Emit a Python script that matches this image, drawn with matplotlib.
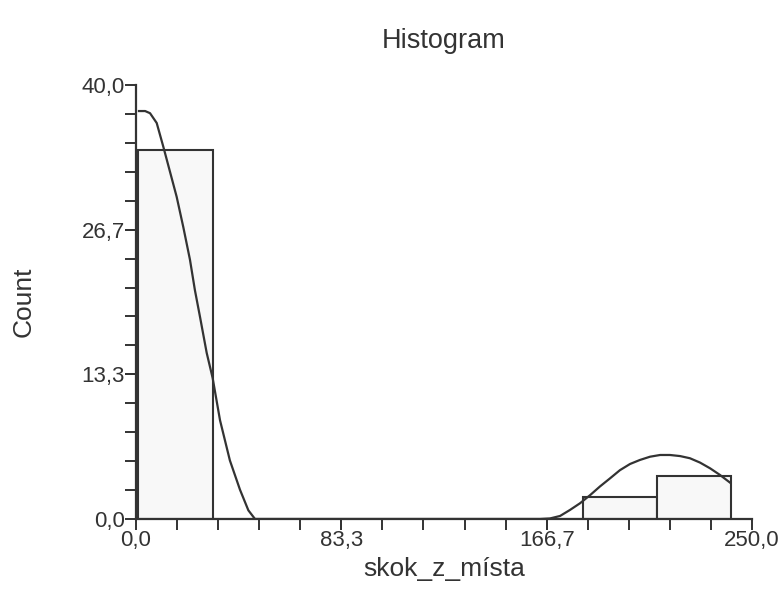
import numpy as np
import matplotlib
matplotlib.use("Agg")
import matplotlib.pyplot as plt

# Histogram bins and counts
bin_edges = [1.0, 31.06, 61.13, 91.19, 121.25, 151.31, 181.38, 211.44, 241.5]
counts = [34, 0, 0, 0, 0, 0, 2, 4]

# Density trace, points
curve_x = [1.2, 3.7, 5.7, 8.4, 11.1, 13.8, 16.5, 19.2, 21.9, 23.9, 26.0, 28.7,
           31.1, 34.1, 38.1, 42.2, 45.6, 48.3, 164.0, 168.0, 172.1, 176.1,
           180.2, 184.3, 188.3, 192.4, 196.4, 200.5, 204.5, 208.6, 212.7,
           216.7, 220.8, 224.8, 228.9, 233.0, 237.0, 241.1]
curve_y = [37.6, 37.6, 37.4, 36.5, 34.3, 32.0, 29.7, 26.9, 23.9, 21.1, 18.6, 15.3,
           13.0, 9.1, 5.4, 2.7, 0.8, 0.0, 0.0, 0.05, 0.28, 0.83,
           1.45, 2.2, 3.0, 3.75, 4.5, 5.07, 5.44, 5.74, 5.9,
           5.9, 5.8, 5.6, 5.2, 4.67, 4.06, 3.35]

x_ticks = [0, 83.33, 166.67, 250]
x_labels = ["0,0", "83,3", "166,7", "250,0"]
y_ticks = [0, 13.33, 26.67, 40]
y_labels = ["0,0", "13,3", "26,7", "40,0"]

plt.rcParams['font.family'] = ['Liberation Sans', 'DejaVu Sans']
ink = "#333333"

fig = plt.figure(figsize=(7.79, 5.92), dpi=100)
ax = fig.add_axes([136/779, 1 - 519/592, (752 - 136)/779, (519 - 85)/592])

widths = np.diff(bin_edges)
ax.bar(bin_edges[:-1], counts, width=widths, align="edge",
       color="#f8f8f8", edgecolor=ink, linewidth=1.5, zorder=2)
ax.plot(curve_x, curve_y, color=ink, linewidth=1.6, zorder=3)

ax.set_xlim(0, 250)
ax.set_ylim(0, 40)
for s in ["top", "right"]:
    ax.spines[s].set_visible(False)
for s in ["left", "bottom"]:
    ax.spines[s].set_color(ink)
    ax.spines[s].set_linewidth(1.6)

ax.set_xticks(x_ticks)
ax.set_xticklabels(x_labels)
ax.set_yticks(y_ticks)
ax.set_yticklabels(y_labels)
ax.set_xticks(np.linspace(0, 250, 16), minor=True)
ax.set_yticks(np.linspace(0, 40, 16), minor=True)
ax.tick_params(which="both", direction="out", length=8, width=1.4, color=ink,
               labelcolor=ink, labelsize=16, pad=0)

ax.set_xlabel("skok_z_místa", fontsize=19, color=ink, labelpad=4)
ax.set_ylabel("Count", fontsize=19, color=ink, labelpad=33)
ax.set_title("Histogram", fontsize=19.5, color=ink, pad=27)

fig.savefig("out.png", dpi=100)
